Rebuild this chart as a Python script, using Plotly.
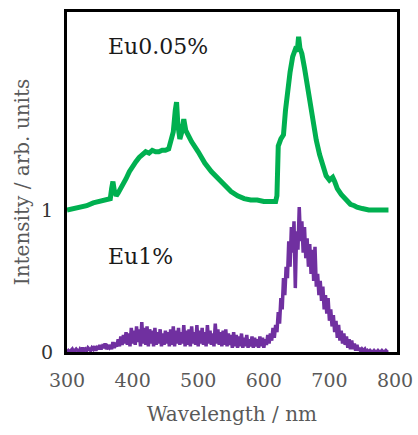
import plotly.graph_objects as go

# ---- data ----
eu005_nm = [300, 310, 320, 330, 340, 350, 360, 366, 368, 370, 372, 375, 378, 382, 386, 390, 395,
            400, 405, 410, 415, 420, 425, 430, 435, 440, 445, 450, 455, 458, 462, 465, 467, 469,
            472, 475, 478, 481, 485, 490, 500, 510, 520, 530, 540, 550, 560, 570, 580, 590, 600,
            610, 618, 620, 622, 626, 630, 633, 636, 640, 644, 648, 651, 653, 655, 658, 662, 666,
            670, 675, 680, 685, 690, 695, 700, 705, 708, 712, 718, 725, 732, 738, 742, 750, 760,
            775, 790]
eu005_int = [1.00, 1.01, 1.02, 1.03, 1.05, 1.06, 1.07, 1.08, 1.15, 1.20, 1.14, 1.10, 1.12, 1.15, 1.19, 1.22, 1.27,
             1.31, 1.34, 1.37, 1.39, 1.41, 1.40, 1.42, 1.41, 1.41, 1.42, 1.42, 1.43, 1.50, 1.55, 1.70, 1.76, 1.60,
             1.50, 1.55, 1.64, 1.56, 1.52, 1.48, 1.41, 1.33, 1.27, 1.22, 1.17, 1.13, 1.10, 1.08, 1.07, 1.07, 1.06,
             1.06, 1.06, 1.10, 1.45, 1.50, 1.53, 1.70, 1.85, 1.97, 2.08, 2.13, 2.12, 2.22, 2.14, 2.10, 2.00, 1.88,
             1.75, 1.62, 1.49, 1.39, 1.30, 1.24, 1.21, 1.23, 1.20, 1.15, 1.11, 1.07, 1.04, 1.03, 1.02, 1.01, 1.00,
             1.00, 1.00]

eu1_nm = list(range(300, 792, 2))
eu1_int = [
    0.00, 0.01, 0.00, 0.01, 0.02, 0.00, 0.01, 0.02, 0.01, 0.00, 0.02, 0.01, 0.03, 0.01, 0.02, 0.01, 0.03, 0.02, 0.01, 0.03,  # 300-338
    0.02, 0.04, 0.01, 0.03, 0.02, 0.05, 0.02, 0.04, 0.03, 0.06, 0.02, 0.04, 0.03, 0.05, 0.02, 0.07, 0.03, 0.05, 0.04, 0.09,  # 340-378
    0.04, 0.11, 0.05, 0.12, 0.06, 0.14, 0.05, 0.13, 0.04, 0.17, 0.06, 0.15, 0.05, 0.18, 0.07, 0.16, 0.04, 0.21, 0.06, 0.17,  # 380-418
    0.05, 0.18, 0.04, 0.16, 0.06, 0.15, 0.04, 0.17, 0.05, 0.14, 0.06, 0.16, 0.04, 0.13, 0.05, 0.15, 0.06, 0.14, 0.04, 0.16,  # 420-458
    0.05, 0.18, 0.04, 0.15, 0.06, 0.17, 0.05, 0.14, 0.06, 0.19, 0.04, 0.15, 0.05, 0.16, 0.04, 0.18, 0.06, 0.14, 0.05, 0.19,  # 460-498
    0.04, 0.15, 0.06, 0.17, 0.05, 0.14, 0.04, 0.19, 0.06, 0.15, 0.05, 0.13, 0.04, 0.20, 0.06, 0.16, 0.05, 0.14, 0.04, 0.15,  # 500-538
    0.05, 0.16, 0.04, 0.13, 0.05, 0.12, 0.03, 0.14, 0.04, 0.12, 0.03, 0.11, 0.04, 0.13, 0.03, 0.10, 0.04, 0.12, 0.03, 0.09,  # 540-578
    0.04, 0.11, 0.03, 0.10, 0.04, 0.09, 0.03, 0.11, 0.04, 0.10, 0.03, 0.09, 0.05, 0.12, 0.06, 0.13, 0.08, 0.17, 0.10, 0.19,  # 580-618
    0.14, 0.28, 0.20, 0.38, 0.30, 0.52, 0.40, 0.60, 0.52, 0.78, 0.60, 0.88, 0.70, 0.92, 0.45, 0.85, 0.72, 1.02, 0.78, 0.92,  # 620-658
    0.70, 0.88, 0.66, 0.80, 0.60, 0.76, 0.55, 0.72, 0.50, 0.74, 0.46, 0.55, 0.40, 0.50, 0.36, 0.46, 0.30, 0.40, 0.27, 0.38,  # 660-698
    0.22, 0.30, 0.18, 0.26, 0.14, 0.22, 0.10, 0.19, 0.08, 0.15, 0.06, 0.13, 0.05, 0.11, 0.03, 0.09, 0.02, 0.08, 0.02, 0.06,  # 700-738
    0.01, 0.05, 0.01, 0.03, 0.00, 0.02, 0.01, 0.02, 0.00, 0.01, 0.00, 0.01, 0.00, 0.00, 0.01, 0.00, 0.00, 0.01, 0.00, 0.00,  # 740-778
    0.01, 0.00, 0.00, 0.01, 0.00, 0.00,                                                                                      # 780-790
]

x_ticks = [300, 400, 500, 600, 700, 800]
y_ticks = [0, 1]
labels = ["Eu0.05%", "Eu1%"]

GREEN = "#00B050"
PURPLE = "#7030A0"
FONT = "DejaVu Serif"

fig = go.Figure()
fig.add_trace(go.Scatter(x=eu005_nm, y=eu005_int, mode="lines",
                         line=dict(color=GREEN, width=5), showlegend=False))
fig.add_trace(go.Scatter(x=eu1_nm[:len(eu1_int)], y=eu1_int, mode="lines",
                         line=dict(color=PURPLE, width=3.5), showlegend=False))

fig.add_annotation(x=360, y=2.148, text=labels[0], showarrow=False, xanchor="left", yanchor="middle",
                   font=dict(family=FONT, size=22, color="#1a1a1a"))
fig.add_annotation(x=360, y=0.669, text=labels[1], showarrow=False, xanchor="left", yanchor="middle",
                   font=dict(family=FONT, size=22, color="#1a1a1a"))

fig.update_layout(
    width=418, height=435,
    margin=dict(l=67, r=21, t=12, b=83),
    paper_bgcolor="white", plot_bgcolor="white",
    font=dict(family=FONT, color="#595959"),
)
fig.update_xaxes(range=[300, 803], tickvals=x_ticks, showgrid=False, zeroline=False, automargin=False,
                 showline=True, linecolor="black", linewidth=3, mirror=True,
                 ticks="", tickfont=dict(family=FONT, size=19, color="#595959"), ticklabelstandoff=9,
                 title=dict(text="Wavelength / nm", font=dict(family=FONT, size=20, color="#595959"), standoff=18))
fig.update_yaxes(range=[0, 2.394], tickvals=y_ticks, showgrid=False, zeroline=False, automargin=False,
                 showline=True, linecolor="black", linewidth=3, mirror=True,
                 ticks="", tickfont=dict(family=FONT, size=19, color="#333333"), ticklabelstandoff=7,
                 title=dict(text="Intensity / arb. units", font=dict(family=FONT, size=20, color="#595959"), standoff=7))

fig.write_html("out.html", config={"displayModeBar": False},
               post_script="document.body.style.margin='0';")
